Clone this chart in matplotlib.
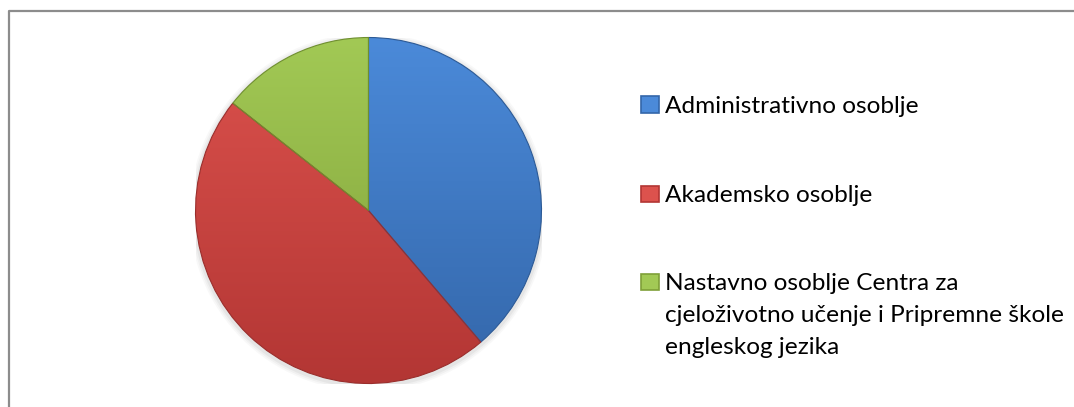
import numpy as np
import matplotlib
matplotlib.use("Agg")
import matplotlib.pyplot as plt
from matplotlib.colors import LinearSegmentedColormap
from matplotlib.lines import Line2D
from matplotlib.patches import Rectangle

labels = [
    "Administrativno osoblje",
    "Akademsko osoblje",
    "Nastavno osoblje Centra za\ncjeloživotno učenje i Pripremne škole\nengleskog jezika",
]
values = [81, 98, 30]
light = ["#4b8ad9", "#dc524d", "#a2c955"]
dark = ["#3366a9", "#b33634", "#7f9f38"]
edges = ["#2c5a96", "#9a2e2c", "#6f8f2f"]

W, H = 1074, 407
fig = plt.figure(figsize=(W / 100, H / 100), dpi=100)
fig.patch.set_facecolor("white")

plt.rcParams["font.family"] = ["Lato", "DejaVu Sans"]

# pie axes: centre (368.5, 210.5) px, radius 173 px
cx, cy, r = 368.5, 210.5, 173
ax = fig.add_axes([(cx - r) / W, (H - cy - r) / H, 2 * r / W, 2 * r / H])

# soft shadow
for k, a in zip([1.035, 1.025, 1.015], [0.05, 0.07, 0.10]):
    ax.add_patch(plt.Circle((0.0, -0.01), k, color="#888888", alpha=a, lw=0, zorder=0))

wedges, _ = ax.pie(values, startangle=90, counterclock=False, radius=1,
                   colors=light, wedgeprops=dict(linewidth=0.8))

grad = np.linspace(0, 1, 256).reshape(-1, 1)
for w, c1, c2, ec in zip(wedges, light, dark, edges):
    w.set_edgecolor(ec)
    cmap = LinearSegmentedColormap.from_list("g", [c1, c2])
    im = ax.imshow(grad, cmap=cmap, extent=[-1, 1, -1, 1], origin="upper",
                   aspect="auto", zorder=2)
    im.set_clip_path(w)
    w.set_facecolor("none")
    w.set_zorder(3)
# pie() resets the limits, so set them after drawing
ax.set_xlim(-1, 1)
ax.set_ylim(-1, 1)
ax.set_aspect("equal")
ax.axis("off")

# legend drawn by hand so the marker sits on the first line
first_baselines = [113, 202, 290]
line_gap = 32
for lab, c1, c2, yb in zip(labels, light, dark, first_baselines):
    fig.patches.append(Rectangle((641 / W, 1 - yb / H), 18 / W, 16.5 / H,
                                 transform=fig.transFigure, facecolor=c1,
                                 edgecolor=c2, linewidth=1.2))
    for i, line in enumerate(lab.split("\n")):
        fig.text(665 / W, 1 - (yb + i * line_gap) / H, line, fontsize=17.6,
                 va="baseline", ha="left", color="#000000")

# chart frame (top and left visible)
fig.add_artist(Line2D([8.5 / W, 8.5 / W, 1.0], [0.0, 1 - 10.5 / H, 1 - 10.5 / H],
                      transform=fig.transFigure, color="#8c8c8c", linewidth=1.6))

fig.savefig("out.png", dpi=100)
